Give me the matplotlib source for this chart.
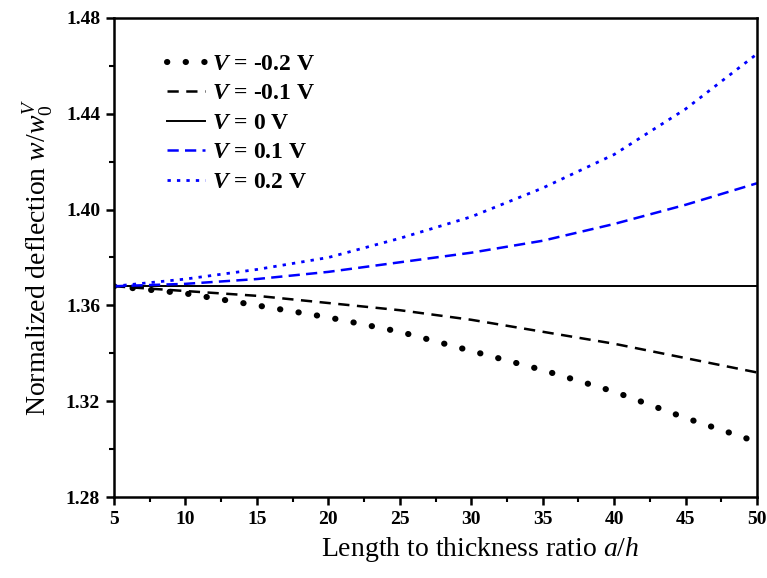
import matplotlib
matplotlib.use("Agg")
import matplotlib.pyplot as plt
from matplotlib.ticker import MultipleLocator

plt.rcParams["font.family"] = "Liberation Serif"
plt.rcParams["mathtext.fontset"] = "custom"
plt.rcParams["mathtext.rm"] = "Liberation Serif"
plt.rcParams["mathtext.it"] = "Liberation Serif:italic"
plt.rcParams["mathtext.bf"] = "Liberation Serif:bold:italic"

# Datos
a_h = [5, 10, 15, 20, 25, 30, 35, 40, 45, 50]
v_m02 = [1.368, 1.365, 1.360, 1.355, 1.349, 1.341, 1.333, 1.324, 1.313, 1.303]
v_m01 = [1.368, 1.366, 1.364, 1.361, 1.358, 1.354, 1.349, 1.344, 1.338, 1.332]
v_0 = [1.368, 1.368, 1.368, 1.368, 1.368, 1.368, 1.368, 1.368, 1.368, 1.368]
v_p01 = [1.368, 1.369, 1.371, 1.374, 1.378, 1.382, 1.387, 1.394, 1.402, 1.411]
v_p02 = [1.368, 1.371, 1.375, 1.380, 1.388, 1.397, 1.409, 1.423, 1.442, 1.465]

fig = plt.figure(figsize=(7.67, 5.78), dpi=100)
ax = fig.add_axes([0.1486, 0.1401, 0.8384, 0.8288])

ax.plot(a_h, v_m02, color="black", linewidth=4.4, linestyle=(0, (0.05, 3.0)),
        dash_capstyle="round", label=r"$\mathbf{V}$ = -0.2 V")
ax.plot(a_h, v_m01, color="black", linewidth=1.8, linestyle=(0, (4.5, 3)),
        label=r"$\mathbf{V}$ = -0.1 V")
ax.plot(a_h, v_0, color="black", linewidth=1.4, label=r"$\mathbf{V}$ = 0 V")
ax.plot(a_h, v_p01, color="#0000ff", linewidth=1.8, linestyle=(0, (4.5, 2.5)),
        label=r"$\mathbf{V}$ = 0.1 V")
ax.plot(a_h, v_p02, color="#0000ff", linewidth=2.0, linestyle=(0, (1.2, 2.2)),
        label=r"$\mathbf{V}$ = 0.2 V")

ax.set_xlim(5, 50)
ax.set_ylim(1.28, 1.48)
ax.xaxis.set_major_locator(MultipleLocator(5))
ax.xaxis.set_minor_locator(MultipleLocator(2.5))
ax.yaxis.set_major_locator(MultipleLocator(0.04))
ax.yaxis.set_minor_locator(MultipleLocator(0.02))
ax.tick_params(which="major", direction="out", length=6, width=1.8,
               labelsize=14, pad=4)
ax.tick_params(which="minor", direction="out", length=3.5, width=1.5)
for lab in ax.get_xticklabels() + ax.get_yticklabels():
    lab.set_fontweight("bold")
for s in ax.spines.values():
    s.set_linewidth(1.8)

ax.set_xlabel(r"Length to thickness ratio $\mathit{a/h}$", fontsize=20, labelpad=8)
ax.xaxis.set_label_coords(0.57, -0.08)
ax.set_ylabel(r"Normalized deflection $\mathit{w/w_0^V}$", fontsize=20, labelpad=8)

leg = ax.legend(loc="upper left", bbox_to_anchor=(0.068, 0.946), frameon=False,
                fontsize=17, handlelength=1.6, handletextpad=0.3,
                labelspacing=0.34, borderaxespad=0)
for t in leg.get_texts():
    t.set_fontweight("bold")

plt.savefig("out.png", dpi=100)
plt.close()
